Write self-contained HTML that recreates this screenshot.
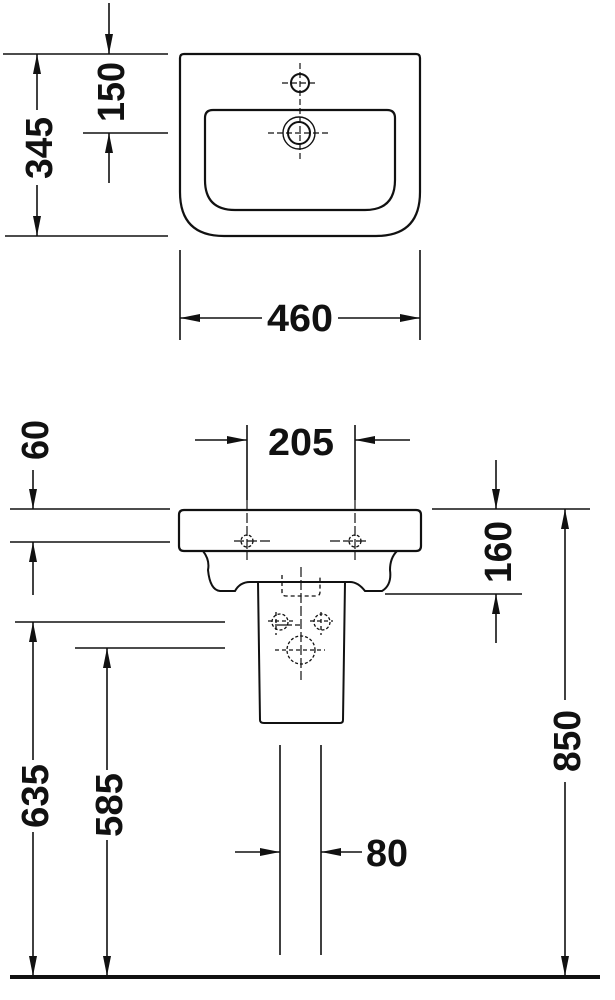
<!DOCTYPE html>
<html><head><meta charset="utf-8"><style>
html,body{margin:0;padding:0;background:#fff}
svg{display:block}
text{font-family:"Liberation Sans",sans-serif;font-weight:bold;font-size:38px;fill:#111}
</style></head><body>
<svg width="615" height="1000" viewBox="0 0 615 1000" xmlns="http://www.w3.org/2000/svg">
<defs>
<marker id="a" viewBox="0 0 20 8" refX="20" refY="4" markerWidth="20" markerHeight="8" markerUnits="userSpaceOnUse" orient="auto">
<path d="M0,0 L20,4 L0,8 Z" fill="#111"/>
</marker>
</defs>
<g stroke="#111" stroke-width="1.6" fill="none">
<!-- TOP VIEW -->
<path d="M180,58 Q180,54 184,54 L416,54 Q420,54 420,58 L420,192 Q420,236 376,236 L224,236 Q180,236 180,192 Z" stroke-width="2.2"/>
<path d="M205,118 Q205,110 213,110 L387,110 Q395,110 395,118 L395,180 Q395,210 365,210 L235,210 Q205,210 205,180 Z" stroke-width="2.2"/>
<circle cx="300" cy="83" r="9" stroke-width="2"/>
<circle cx="299" cy="133" r="11" stroke-width="2"/>
<circle cx="299" cy="133" r="16" stroke-width="1.4"/>
<path d="M282,83 H318 M300,63 V160 M268,133 H331" stroke-dasharray="6,3" stroke-width="1.2"/>
<!-- 345 -->
<path d="M3,54 H168 M5,236 H168"/>
<line x1="37" y1="110" x2="37" y2="54" marker-end="url(#a)"/>
<line x1="37" y1="185" x2="37" y2="236" marker-end="url(#a)"/>
<!-- 150 -->
<path d="M83,133 H168"/>
<line x1="109" y1="3" x2="109" y2="54" marker-end="url(#a)"/>
<line x1="109" y1="183" x2="109" y2="133" marker-end="url(#a)"/>
<!-- 460 -->
<path d="M180,250 V340 M420,250 V340"/>
<line x1="262" y1="318" x2="180" y2="318" marker-end="url(#a)"/>
<line x1="338" y1="318" x2="420" y2="318" marker-end="url(#a)"/>

<!-- SIDE VIEW -->
<path d="M184,510 L416,510 Q421,510 421,515 L421,546 Q421,551 416,551 L184,551 Q179,551 179,546 L179,515 Q179,510 184,510 Z" stroke-width="2.2"/>
<path d="M203,551 Q210,560 208,570 Q210,590 220,591 L235,591 Q240,582 250,582 L350,582 Q358,582 365,591 L382,591 Q392,585 390,570 Q390,558 397,551" stroke-width="2"/>
<path d="M258,582 L260,720 Q260,723 264,723 L340,723 Q343,723 343,720 L345,582" stroke-width="2"/>
<path d="M247,500 V560 M355,500 V560 M234,541 H272 M330,541 H368 M301,567 V680 M282,625 H300 M275,625 H292" stroke-dasharray="10,3" stroke-width="1.2"/>
<path d="M282,575 V592 Q282,596 286,596 L316,596 Q320,596 320,592 V575 M268,621 H293 M310,621 H333 M276,612 V635 M321,612 V635 M275,650 H325" stroke-dasharray="4,3" stroke-width="1.3"/>
<circle cx="247" cy="541" r="6" stroke-dasharray="3,2" stroke-width="1.3"/>
<circle cx="355" cy="541" r="6" stroke-dasharray="3,2" stroke-width="1.3"/>
<circle cx="280" cy="622" r="8" stroke-dasharray="3,2" stroke-width="1.3"/>
<circle cx="322" cy="622" r="8" stroke-dasharray="3,2" stroke-width="1.3"/>
<circle cx="301" cy="650" r="14" stroke-dasharray="3,2" stroke-width="1.3"/>
<!-- 60 -->
<path d="M10,509 H170 M10,542 H170"/>
<line x1="33" y1="470" x2="33" y2="509" marker-end="url(#a)"/>
<line x1="33" y1="595" x2="33" y2="542" marker-end="url(#a)"/>
<!-- 205 -->
<path d="M247,425 V500 M355,425 V500"/>
<line x1="195" y1="440" x2="247" y2="440" marker-end="url(#a)"/>
<line x1="410" y1="440" x2="355" y2="440" marker-end="url(#a)"/>
<!-- 160 / 850 -->
<path d="M432,509 H590 M385,594 H522"/>
<line x1="496" y1="460" x2="496" y2="509" marker-end="url(#a)"/>
<line x1="496" y1="643" x2="496" y2="594" marker-end="url(#a)"/>
<line x1="565" y1="700" x2="565" y2="509" marker-end="url(#a)"/>
<line x1="565" y1="782" x2="565" y2="976" marker-end="url(#a)"/>
<!-- 635 / 585 -->
<path d="M15,622 H225 M75,648 H225"/>
<line x1="33" y1="760" x2="33" y2="622" marker-end="url(#a)"/>
<line x1="33" y1="832" x2="33" y2="976" marker-end="url(#a)"/>
<line x1="107" y1="770" x2="107" y2="648" marker-end="url(#a)"/>
<line x1="107" y1="840" x2="107" y2="976" marker-end="url(#a)"/>
<!-- 80 -->
<path d="M280,745 V955 M321,745 V955"/>
<line x1="235" y1="852" x2="280" y2="852" marker-end="url(#a)"/>
<line x1="362" y1="852" x2="321" y2="852" marker-end="url(#a)"/>
<!-- ground -->
<line x1="10" y1="977" x2="600" y2="977" stroke-width="4"/>
</g>
<g>
<text transform="translate(52,148) rotate(-90)" text-anchor="middle" textLength="62" lengthAdjust="spacingAndGlyphs">345</text>
<text transform="translate(124,92) rotate(-90)" text-anchor="middle" textLength="60" lengthAdjust="spacingAndGlyphs">150</text>
<text x="300" y="331" text-anchor="middle" textLength="66" lengthAdjust="spacingAndGlyphs">460</text>
<text transform="translate(48,440) rotate(-90)" text-anchor="middle" textLength="40" lengthAdjust="spacingAndGlyphs">60</text>
<text x="301" y="455" text-anchor="middle" textLength="66" lengthAdjust="spacingAndGlyphs">205</text>
<text transform="translate(511,552) rotate(-90)" text-anchor="middle" textLength="62" lengthAdjust="spacingAndGlyphs">160</text>
<text transform="translate(580,741) rotate(-90)" text-anchor="middle" textLength="62" lengthAdjust="spacingAndGlyphs">850</text>
<text transform="translate(48,796) rotate(-90)" text-anchor="middle" textLength="64" lengthAdjust="spacingAndGlyphs">635</text>
<text transform="translate(122,805) rotate(-90)" text-anchor="middle" textLength="64" lengthAdjust="spacingAndGlyphs">585</text>
<text x="366" y="866" textLength="42" lengthAdjust="spacingAndGlyphs">80</text>
</g>
</svg>
</body></html>
